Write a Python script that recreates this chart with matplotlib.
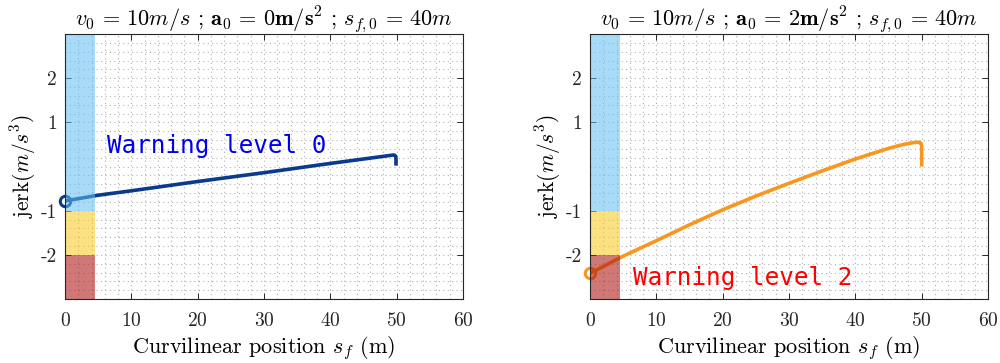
import numpy as np
import matplotlib
matplotlib.use("Agg")
import matplotlib.pyplot as plt
from matplotlib.ticker import MultipleLocator

plt.rcParams['font.family'] = ['cmr10', 'DejaVu Serif']
plt.rcParams['mathtext.fontset'] = 'cm'
plt.rcParams['axes.unicode_minus'] = False
plt.rcParams['axes.formatter.use_mathtext'] = True

# ---- data ----
s_blue = [0, 5, 10, 20, 30, 40, 45, 48, 49, 49.4, 49.7, 49.85, 49.9, 49.9]
j_blue = [-0.78, -0.65, -0.55, -0.34, -0.14, 0.07, 0.17, 0.23, 0.25, 0.26, 0.255, 0.23, 0.18, 0.02]

s_orange = [0, 5, 10, 15, 20, 25, 30, 35, 40, 45, 47, 48.5, 49.3, 49.7, 49.9, 50.0, 50.0]
j_orange = [-2.42, -2.03, -1.68, -1.32, -0.98, -0.67, -0.38, -0.10, 0.17, 0.41, 0.49, 0.535, 0.55, 0.545, 0.52, 0.46, 0.0]

titles = [r'$v_0 \,=\, 10m/s$ ; $\mathbf{a}_\mathbf{0} \,=\, \mathbf{0m/s}^\mathbf{2}$ ; $s_{f,0} \,=\, 40m$',
          r'$v_0 \,=\, 10m/s$ ; $\mathbf{a}_\mathbf{0} \,=\, \mathbf{2m/s}^\mathbf{2}$ ; $s_{f,0} \,=\, 40m$']
warn_texts = ['Warning level 0', 'Warning level 2']
warn_pos = [(6.3, 0.30), (6.5, -2.69)]

zone_x = [0, 4.5]
zone_lo = [-1, -2, -3]
zone_hi = [3, -1, -2]
zone_colors = ['#61bff2', '#fbca1c', '#ab0a0a']

yticks = [-2, -1, 1, 2]
yticklabels = ['-2', '-1', '1', '2']
xticks = [0, 10, 20, 30, 40, 50, 60]

series = [(s_blue, j_blue, '#0a3a8e', '#0000ee'),
          (s_orange, j_orange, '#f8961e', '#ff0000')]

fig = plt.figure(figsize=(10, 3.63), dpi=100)
axes = [fig.add_axes([0.065, 0.1763, 0.398, 0.730]),
        fig.add_axes([0.590, 0.1763, 0.398, 0.730])]

for i, ax in enumerate(axes):
    s, j, lc, tc = series[i]
    ax.plot(s, j, color=lc, lw=2.6, zorder=3, solid_capstyle='butt',
            solid_joinstyle='round')
    ax.plot(s[0], j[0], 'o', mfc='none', mec=lc, mew=2.2, ms=7.5, zorder=3,
            clip_on=False)
    for lo, hi, c in zip(zone_lo, zone_hi, zone_colors):
        ax.fill_between(zone_x, lo, hi, color=c, alpha=0.55, lw=0, zorder=3.2)
    ax.set_xlim(0, 60)
    ax.set_ylim(-3, 3)
    ax.set_xticks(xticks)
    ax.set_yticks(yticks)
    ax.set_yticklabels(yticklabels)
    ax.xaxis.set_minor_locator(MultipleLocator(2))
    ax.yaxis.set_minor_locator(MultipleLocator(0.2))
    ax.set_axisbelow(False)
    ax.grid(True, which='both', color='#b0b0b0', linestyle=(0, (1, 3)), lw=0.8)
    ax.tick_params(which='major', direction='in', top=True, right=True, length=4,
                   width=0.7, labelsize=14, colors='#262626', pad=6)
    ax.tick_params(axis='x', which='major', pad=9)
    ax.tick_params(which='minor', length=0)
    for sp in ax.spines.values():
        sp.set_color('#262626')
        sp.set_linewidth(0.8)
        sp.set_zorder(5)
    ax.set_title(titles[i], fontsize=16, pad=6)
    ax.set_xlabel(r'Curvilinear position $s_f$ (m)', fontsize=16, labelpad=3)
    ax.set_ylabel(r'jerk$(m/s^3)$', fontsize=15.5, labelpad=2)
    ax.text(warn_pos[i][0], warn_pos[i][1], warn_texts[i], color=tc,
            fontsize=17.5, family='DejaVu Sans Mono', zorder=6)

fig.savefig('out.png', dpi=100)
